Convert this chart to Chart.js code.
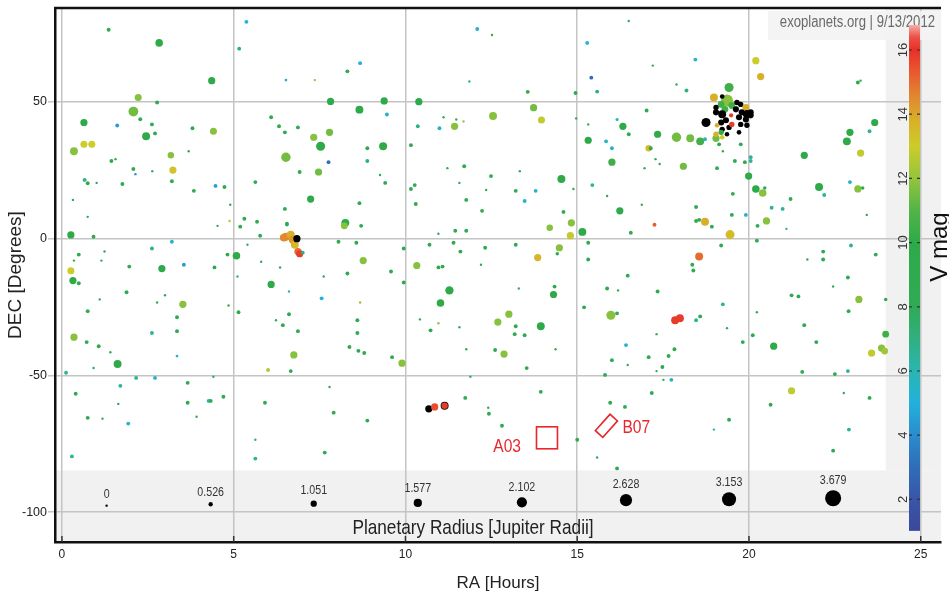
<!DOCTYPE html>
<html><head><meta charset="utf-8">
<script src="https://cdn.jsdelivr.net/npm/chart.js@4.4.1/dist/chart.umd.min.js"></script>
<style>html,body{margin:0;padding:0;background:#fff;}canvas{display:block;}</style>
</head><body>
<canvas id="c" width="949" height="598"></canvas>
<script>
// ---------------- DATA ----------------
// Right ascension [hours]
const ra = [
 1.36,2.83,4.36,5.37,5.16,6.52,7.36,2.22,2.77,2.08,
 0.64,1.61,2.28,2.62,2.45,2.71,3.80,4.41,0.35,0.64,
 0.87,3.17,3.23,1.44,1.56,2.08,2.14,2.63,3.20,3.69,
 0.66,0.75,1.01,1.76,3.84,4.47,4.73,5.63,6.09,6.32,
 6.49,6.87,7.33,6.52,6.92,7.24,6.49,6.55,0.32,0.75,
 0.26,0.92,0.49,0.35,0.26,0.32,0.49,1.24,1.15,1.96,
 2.62,3.20,2.91,3.55,4.44,4.82,5.08,4.53,4.88,4.90,
 5.19,5.31,5.68,5.77,5.40,5.11,5.80,6.09,1.88,6.35,6.61,
 6.55,6.46,6.52,6.66,6.72,6.78,6.87,6.92,7.01,6.84,
 12.09,12.52,15.29,15.41,15.58,14.95,13.56,8.68,8.31,11.86,
 7.82,8.66,9.38,10.39,9.46,10.36,10.99,11.43,12.55,13.73,
 13.96,11.11,11.48,11.69,7.53,7.79,9.35,8.89,8.89,7.76,
 7.47,9.41,9.26,10.16,11.71,12.49,14.54,11.22,11.57,10.27,
 10.16,10.30,11.77,12.23,13.21,13.79,13.47,13.33,12.35,14.89,
 14.60,14.83,14.20,14.80,15.15,14.48,14.42,13.85,15.32,15.84,
 16.01,16.01,15.44,15.32,14.97,15.87,8.25,8.22,8.71,8.66,
 8.05,8.57,8.77,8.31,9.58,9.95,9.95,7.62,7.56,10.70,
 11.40,11.60,11.45,11.77,12.32,13.21,10.33,10.96,11.08,11.28,
 11.02,14.34,14.31,15.32,15.32,15.87,13.30,12.20,10.96,
 16.50,17.20,18.44,17.89,18.18,20.20,20.34,23.17,23.25,17.02,
 16.16,16.33,16.50,17.34,17.89,18.29,18.58,18.72,19.04,17.08,
 17.14,17.28,17.40,16.96,18.09,19.07,19.24,19.76,19.59,19.88,
 20.05,20.05,19.99,20.20,20.40,20.46,19.53,18.46,19.50,19.91,
 20.25,20.51,20.66,20.98,21.21,21.09,21.61,22.04,22.19,22.94,
 23.17,23.31,23.43,22.85,22.94,23.51,23.66,23.25,16.24,16.56,
 16.88,17.25,18.46,18.55,18.72,18.92,19.45,19.19,18.55,18.35,
 18.38,20.23,22.97,22.16,22.16,23.69,22.88,22.45,21.70,23.20,
 23.98,21.24,21.44,16.47,17.34,16.19,
 19.42,18.98,19.36,19.22,19.19,19.04,19.30,19.50,19.65,19.76,
 19.91,19.62,19.04,19.22,19.79,19.94,20.05,19.71,19.91,20.05,
 18.75,19.19,19.33,19.76,19.94,19.42,19.22,19.36,19.71,19.48,
 19.50,19.07,19.19,19.04,19.22,19.13,
 3.52,1.10,2.77,3.00,4.85,0.75,0.35,0.72,1.07,1.41,
 1.62,0.92,0.12,0.40,0.75,1.18,1.64,1.70,1.93,2.16,
 2.71,2.62,3.35,3.35,3.35,3.66,3.66,3.92,4.27,4.33,
 4.70,4.41,0.29,5.14,5.63,5.63,5.91,6.00,6.66,6.75,
 6.43,6.61,6.87,6.23,
 8.68,8.60,8.60,8.37,8.63,8.80,9.61,9.90,7.79,7.91,
 8.89,7.65,10.73,10.42,10.96,11.57,11.77,11.89,12.41,11.74,
 12.43,12.81,13.94,13.53,12.61,12.87,12.69,13.01,13.21,13.18,
 13.47,13.94,14.37,15.00,15.58,15.20,15.98,16.01,15.81,15.96,
 10.68,10.85,11.14,11.14,
 16.16,17.85,17.99,18.58,18.46,17.31,16.47,17.31,17.51,16.42,
 17.08,17.66,17.83,17.48,17.74,17.17,16.39,16.16,19.24,19.36,
 19.82,20.11,19.42,18.98,20.23,20.72,21.61,21.96,21.55,22.50,
 22.88,22.76,20.63,21.24,23.51,22.91,22.45,22.90,23.57,23.86,
 23.95,23.98
];
// Declination [degrees]
const dec = [
 76.4,71.6,57.8,79.3,69.5,58.0,58.0,51.6,49.8,46.5,
 42.5,41.4,43.7,41.8,37.5,38.5,40.4,39.3,32.0,34.5,
 34.5,30.5,25.1,28.4,29.1,25.5,23.6,24.7,21.0,32.0,
 21.5,20.3,20.4,20.0,17.5,19.3,18.9,20.7,44.4,41.1,
 38.9,40.7,37.1,29.8,24.4,14.5,10.9,5.5,14.2,8.0,
 1.4,0.7,-5.8,-8.0,-11.7,-15.3,-16.3,-4.7,-8.0,-10.2,
 -3.6,-1.1,-10.9,-9.5,-10.5,-5.8,-6.2,4.7,6.5,12.4,
 4.4,7.3,6.2,1.1,-2.2,-13.8,-8.4,-16.7,-19.6,-10.5,-19.3,
 5.1,0.4,0.7,1.5,-0.4,-2.2,-4.7,-5.5,-5.1,0.0,
 76.7,74.5,71.6,58.9,53.8,53.3,53.7,64.2,61.2,57.5,
 50.2,47.2,50.4,50.1,45.4,41.1,40.4,41.1,44.9,47.9,
 43.4,44.4,43.6,42.9,33.8,38.9,33.8,33.1,28.4,28.0,
 24.4,20.4,23.3,34.2,26.5,22.9,21.8,25.8,20.4,19.6,
 18.2,12.7,14.2,10.2,17.5,17.5,13.8,24.7,17.8,18.2,
 9.8,5.8,4.0,1.1,2.5,-3.3,-5.5,-6.9,36.0,35.6,
 33.1,28.0,19.6,41.8,44.0,15.6,5.8,4.7,4.7,13.0,
 -1.1,-1.5,-8.0,-12.7,-12.0,-3.6,-16.0,-13.8,-21.8,-2.2,
 -1.5,-4.7,2.9,2.9,-3.3,-2.2,-9.8,-10.5,-10.2,-18.9,
 -23.5,-17.5,-20.4,-1.5,-7.6,-18.2,-18.2,-9.5,1.8,
 79.6,63.3,65.5,56.4,54.2,65.1,59.3,57.1,57.8,46.9,
 43.6,41.1,38.2,38.2,37.1,36.7,35.6,36.4,36.7,33.1,
 33.1,29.1,27.3,25.8,26.5,25.8,32.0,34.5,28.4,28.0,
 29.8,28.4,22.9,18.2,16.7,18.5,16.4,11.6,8.7,8.7,
 4.7,6.5,11.3,10.9,14.5,3.6,30.5,18.9,16.0,20.7,
 18.2,18.5,8.7,35.6,38.9,39.3,42.5,31.3,10.2,2.2,
 12.4,5.1,6.5,6.9,6.2,4.4,1.5,-2.5,-6.5,-9.5,
 -11.6,-0.7,-2.5,-4.7,-7.6,-5.8,-14.2,-17.5,-7.6,-22.2,
 -22.2,-20.7,-21.1,-13.5,-19.3,-18.9,
 55.3,51.6,50.5,52.0,49.1,48.0,47.3,48.7,49.8,49.1,
 48.0,47.3,46.2,45.5,46.2,45.5,46.2,44.4,43.6,45.1,
 42.5,42.5,43.3,41.8,41.5,40.7,40.0,38.2,38.9,45.1,
 41.8,41.5,38.9,38.2,37.1,34.5,
 -24.0,-22.2,-23.3,-20.7,-24.4,-26.5,-36.0,-37.8,-39.3,-41.5,
 -45.8,-47.3,-49.0,-56.7,-65.5,-65.8,-60.4,-53.8,-67.6,-50.9,
 -50.9,-34.5,-28.7,-33.8,-42.9,-52.7,-60.0,-65.1,-59.3,-59.3,
 -57.8,-50.5,-79.6,-26.9,-73.5,-80.4,-60.0,-48.0,-48.4,-42.5,
 -31.6,-27.6,-33.8,-29.8,
 -23.3,-29.8,-34.5,-39.6,-41.0,-41.8,-43.3,-45.5,-54.2,-63.6,
 -66.5,-78.2,-33.5,-29.5,-30.9,-32.4,-40.4,-50.5,-61.8,-58.2,
 -64.0,-68.4,-56.0,-47.3,-40.7,-42.2,-30.5,-27.6,-32.0,-34.9,
 -35.3,-32.0,-40.4,-73.5,-80.0,-25.1,-28.0,-44.4,-49.8,-60.0,
 -62.2,-61.5,-61.1,-61.1,
 -27.3,-29.8,-29.1,-28.4,-29.8,-34.9,-46.2,-48.4,-51.6,-38.9,
 -43.3,-42.9,-40.4,-46.9,-51.6,-56.4,-61.5,-84.0,-24.0,-32.7,
 -37.8,-35.3,-66.2,-69.8,-26.9,-39.3,-31.6,-37.8,-48.7,-49.5,
 -48.4,-56.4,-60.7,-55.6,-58.2,-69.8,-77.5,-26.5,-41.8,-40.0,
 -41.1,-34.9
];
// Host star V magnitude (null = unknown, drawn black)
const vmag = [
 9,9.5,9.5,5,7,5.5,12,11.8,9,11.5,
 10,4.5,9,9,9.5,9,9,11.8,11.8,13,
 13,11.8,13.2,9,8,9,4,8,9,8,
 7,9,8,9,9,4.5,9,9,9,9,
 9,9,11.8,11.5,9,10,9,9,8,8,
 10,9,9,8,13,10,9,8,8,9,
 7,5.5,10,4.5,9,9,10,8,12.5,8,
 9,9,9,9,7,7,8,10,9,8,6,
 9,14.5,14.5,13.8,14.3,13.6,15,15.8,7,null,
 5.5,9,5,3,7,9,9,5,9,7,
 10,10,9.5,9.5,5.5,7,5.5,11.8,11.8,11.5,
 12.8,8,9,12,10,11.5,10,9,7,3,
 11.5,9,8,9,9,9,10,8,8,9,
 9,9,9,9,9,5.5,5.5,8,8,8,
 9,11.8,11.8,12.8,10,11.8,9,13.6,10,5.5,
 5.5,10.5,6.5,8,8,8,10,11.8,9,9,
 9,9,11.8,9,9,9,9,8,5,9,
 9,9,9,9,9,9,11.8,9,9,10,
 10,9,10,9,9,9,7,8,8,
 8,8,5.5,8,7,13,13.8,9,8,9,
 6,10,9,10,11.5,11.5,10.5,6,11.5,13.5,
 9,8,8,8,11.5,9,8,9,9,9,
 6.5,6.5,10,10,11.8,9,9,9,9,5.5,
 9,11.8,6.5,6.5,9,7,10,10,6.5,5.5,
 11.8,9,8,10,10,6.5,10,12.8,10,9,
 8,15.3,9,9,13.8,9,13.5,9,15,9,
 9,9,6.5,9,9,9,9,8,8,11.8,
 9,9,9,9,9,8,
 10.5,13.8,11.8,null,10.5,null,10.5,10.5,null,null,
 13.8,null,null,null,null,null,null,null,null,null,
 null,null,null,null,null,null,null,null,null,15.8,
 15.8,13.8,10,13.8,13,9,
 11.8,8,8,8,8,9,11.8,9,9,8,
 10,8,6.5,9,9,8,8,6.5,5.5,6.5,
 5.5,6.5,9,9,5.5,9,9,8,5.5,9,
 9,8,6.5,9,7,6.5,9,12.5,9,11.8,
 9,9,9,8,
 12,9,9,9,9,9,9,11.8,8,9,
 9,9,9,8,12,8,8,8,8,9,
 9,9,9,9,9,11.8,11.8,11.8,9,9,
 9,10,8,9,8,9,11.8,9,9,9,
 null,15.5,null,15.8,
 9,15.8,15.8,9,6.5,8,8,8,8,5.5,
 9,9,9,9,5.5,9,9,9,6.5,8,
 9,9,9,6,8,10,9,9,9,9,
 6.5,8,9,12.8,9,6.5,9,9,12.8,11.8,
 12.2,10.5
];
// Planetary radius [Jupiter radii]
const radius = [
 0.4,1.4,1.3,0.4,0.4,0.1,0,1.25,0.4,2.0,
 1.3,0.4,0.4,0.4,1.5,0.4,0.4,1.25,1.5,1.25,
 1.25,1.1,1.3,0.4,0,0.4,0,0,0.4,0,
 0.4,0.4,0,0.4,0.4,0.4,0.4,0.4,0.4,0.4,
 0.4,0.4,1.3,1.9,0.4,1.3,0.4,0.4,0,0,
 1.3,0.4,0.4,0,1.25,1.3,0.4,0,0,0.4,
 0.4,0.4,1.3,0.4,0.4,0.4,1.4,0,0,0,
 0.4,0.4,0.4,0.4,0,0,0,1.3,0.4,0,0,
 0.3,1.5,1.5,1.5,1.5,1.5,1.3,1.3,0.4,1.3,
 0.4,0,0.4,0.4,0.4,0.4,0.4,0.4,0.4,0,
 1.3,1.5,1.3,1.3,0.4,0.4,0.4,1.3,1.5,1.3,
 1.25,0,0,0,1.8,1.3,1.5,0.4,0.4,0.4,
 1.3,0.4,0,0.4,0.4,0.4,1.5,0,0,0.4,
 0.4,0.4,0.4,0.4,0.4,0.4,0.4,0,0,0,
 0.4,1.3,1.1,1.3,1.5,1.3,0.3,1.3,1.3,0.4,
 0.4,1.3,0.4,0,0,0,1.5,1.2,0.4,0.4,
 0.4,0.4,1.3,0.4,0.4,0.4,0.4,0,0.4,0.4,
 0.4,0.4,0.4,0.4,0.4,0.4,1.3,0.4,0.4,1.6,
 1.4,0.4,1.3,0.4,0.4,0.4,0,0,0,
 0,0,0.4,0,0.4,1.3,1.3,0.4,0,0.4,
 0.2,1.3,0.4,1.3,1.9,1.5,1.5,0.4,1.3,1.1,
 0.4,0,0,0,1.3,0.4,0,0.4,0.4,0.4,
 0.4,0.4,1.3,1.4,1.4,0.3,0.4,0.4,0.4,0.4,
 0.4,1.3,0.4,0.4,0.4,0,1.3,1.5,0.4,0.4,
 1.3,0.3,0,1.5,1.3,0.4,1.3,1.3,1.3,0.4,
 0,0.4,0.4,0.4,1.5,0.4,1.8,0.4,1.5,0.4,
 0.4,0.4,0.4,0.4,0.4,0.4,0.4,0,0,1.3,
 0.3,0.4,0.4,0.4,0.4,0,
 1.8,1.5,2.6,0.6,1.2,0.8,1.2,1.2,0.8,0.8,
 1.2,1.0,1.0,1.5,1.0,1.6,1.0,1.0,1.0,1.0,
 1.8,1.0,1.0,0.8,0.8,0.8,0.8,0.6,0.6,0.5,
 0.8,0.6,0.8,0.8,0.6,0.4,
 1.3,0,0,0,0,0.4,1.3,0.4,0.4,0,
 1.5,0,0.4,0.4,0.4,0,0,0.4,0.4,0.4,
 0.4,0.4,0.4,0.4,0.1,0.4,0.4,0,0.4,0.4,
 0.4,0,0.4,0.4,0,0.4,0.4,0.4,0.4,1.3,
 0.4,0.4,0.4,0,
 0,0.4,0.4,0.4,0.4,0.4,0.4,1.3,0,0.4,
 0.4,0.4,0.4,0,0,0,0,0,0,0.4,
 0.4,0.4,0.4,0.4,0.4,1.3,1.3,1.3,0.4,0.4,
 0.4,1.5,0,0.4,0,0.4,1.8,0.4,0.4,0.4,
 1.3,1.3,1.5,1.1,
 0.4,1.5,1.5,0.4,0.4,0,0,0,0,0.4,
 0.4,0.4,0.4,0.4,0.4,0.4,0.4,0.4,0.4,0,
 0.4,0.4,0.4,0,0,1.3,0.4,0.4,0.4,0.4,
 0.4,0,0.4,1.3,0.4,0.4,0.4,0.4,1.3,1.3,
 1.2,1.2
];
// Size legend (planetary radius key)
const legendRadius = [0, 0.526, 1.051, 1.577, 2.102, 2.628, 3.153, 3.679];
const legendRA     = [1.30, 4.33, 7.33, 10.36, 13.39, 16.42, 19.42, 22.45];
const legendDec    = [-97.6, -97.1, -96.9, -96.6, -96.4, -95.6, -95.3, -94.9];
// Axis / colour-bar ticks
const raTicks   = [0, 5, 10, 15, 20, 25];
const decTicks  = [-100, -50, 0, 50];
const vmagTicks = [2, 4, 6, 8, 10, 12, 14, 16];
// Field markers
const markerLabels = ['A03', 'B07'];
const markerRA     = [14.12, 15.85];
const markerDec    = [-72.8, -68.4];

// ---------------- STYLE ----------------
const REG = "'Liberation Sans',Arial,sans-serif";
const SQ = 0.82; // horizontal squeeze used for the narrow-looking labels
const cmapV = [1.0,2.0,3.0,4.0,5.0,6.0,7.0,8.0,10.0,11.0,12.0,13.0,13.8,14.5,15.3,16.0,16.4,16.8];
const cmapC = ['#3a489a','#3a55a8','#2f6db8','#2a8ccc','#22b0dc','#2ab6b0','#30b080','#30aa55','#2eaa48','#52b448','#94c43c','#cccc2a','#d8b028','#e08a30','#e85a30','#e83028','#ec5048','#f4b0a8'];
function hexRgb(h){return [parseInt(h.slice(1,3),16),parseInt(h.slice(3,5),16),parseInt(h.slice(5,7),16)];}
function vColor(v){
  if (v === null) return '#000000';
  if (v <= cmapV[0]) return cmapC[0];
  for (let i = 1; i < cmapV.length; i++) {
    if (v <= cmapV[i]) {
      const t = (v - cmapV[i-1]) / (cmapV[i] - cmapV[i-1]);
      const a = hexRgb(cmapC[i-1]), b = hexRgb(cmapC[i]);
      return 'rgb(' + a.map((c,k)=>Math.round(c + (b[k]-c)*t)).join(',') + ')';
    }
  }
  return cmapC[cmapC.length-1];
}
const rPix = R => 1.2 + 1.85 * R;

const X_MIN = -0.202, X_MAX = 25.59, Y_MIN = -110.9, Y_MAX = 84.36;
const BAND_DEC = -84.7, PANEL_RA = 23.98;

function narrowText(ctx, txt, x, y, size, align, color) {
  ctx.save();
  ctx.translate(x, y); ctx.scale(SQ, 1);
  ctx.font = size + 'px ' + REG; ctx.fillStyle = color;
  ctx.textAlign = align; ctx.textBaseline = 'middle';
  ctx.fillText(txt, 0, 0);
  ctx.restore();
}

const overlay = {
  id: 'overlay',
  beforeDraw(chart) {
    const {ctx, chartArea: a, scales: {x, y}} = chart;
    ctx.save();
    ctx.fillStyle = '#ffffff';
    ctx.fillRect(0, 0, chart.width, chart.height);
    ctx.fillStyle = '#f1f1f1';
    const yb = y.getPixelForValue(BAND_DEC);
    ctx.fillRect(a.left, yb, a.right - a.left, a.bottom - yb);
    const xp = x.getPixelForValue(PANEL_RA);
    ctx.fillRect(xp, a.top, a.right - xp, yb - a.top);
    ctx.restore();
  },
  afterDraw(chart) {
    const {ctx, chartArea: a, scales: {x, y}} = chart;
    ctx.save();
    // top frame line
    ctx.strokeStyle = '#111'; ctx.lineWidth = 2.5;
    ctx.beginPath(); ctx.moveTo(a.left - 1, a.top); ctx.lineTo(a.right, a.top); ctx.stroke();
    // inward x tick marks
    ctx.strokeStyle = '#333'; ctx.lineWidth = 1.5;
    raTicks.forEach(v => { const px = x.getPixelForValue(v); ctx.beginPath(); ctx.moveTo(px, a.bottom); ctx.lineTo(px, a.bottom - 6); ctx.stroke(); });

    // watermark
    ctx.fillStyle = 'rgba(243,243,243,0.9)';
    ctx.fillRect(768, a.top + 3, a.right - 768, 29);
    narrowText(ctx, 'exoplanets.org | 9/13/2012', 935, 23, 16, 'right', '#6a6a6a');

    // colour bar
    const cbY = v => 50 + (16 - v) * 32.1;
    const cbL = 909, cbR = 920, vTop = 16.78, vBot = 1.02;
    const g = ctx.createLinearGradient(0, cbY(vTop), 0, cbY(vBot));
    cmapV.forEach((v, i) => { g.addColorStop(Math.min(1, Math.max(0, (vTop - v) / (vTop - vBot))), cmapC[i]); });
    ctx.fillStyle = g;
    ctx.fillRect(cbL, cbY(vTop), cbR - cbL, cbY(vBot) - cbY(vTop));
    ctx.strokeStyle = '#333'; ctx.lineWidth = 1.2;
    vmagTicks.forEach(v => {
      const py = cbY(v);
      ctx.beginPath(); ctx.moveTo(cbL, py); ctx.lineTo(cbL + 3, py); ctx.moveTo(cbR - 3, py); ctx.lineTo(cbR, py); ctx.stroke();
      ctx.save(); ctx.translate(903, py); ctx.rotate(-Math.PI / 2);
      ctx.fillStyle = '#333'; ctx.font = '13px ' + REG; ctx.textAlign = 'center'; ctx.textBaseline = 'middle';
      ctx.fillText(String(v), 0, 0); ctx.restore();
    });
    ctx.save(); ctx.translate(940, 247); ctx.rotate(-Math.PI / 2);
    ctx.fillStyle = '#111'; ctx.font = '24px ' + REG; ctx.textAlign = 'center'; ctx.textBaseline = 'middle';
    ctx.fillText('V mag', 0, 0); ctx.restore();

    // size legend labels
    legendRadius.forEach((R, i) => {
      const px = x.getPixelForValue(legendRA[i]), py = y.getPixelForValue(legendDec[i]);
      narrowText(ctx, String(R), px, py - rPix(R) - 10, 13, 'center', '#333');
    });
    narrowText(ctx, 'Planetary Radius [Jupiter Radii]', 473, 528, 21, 'center', '#222');

    // field markers
    ctx.strokeStyle = '#e8262b'; ctx.lineWidth = 1.6;
    const mw = [21, 22], mh = [22, 10], mrot = [0, -48];
    markerLabels.forEach((lab, i) => {
      const px = x.getPixelForValue(markerRA[i]), py = y.getPixelForValue(markerDec[i]);
      ctx.save(); ctx.translate(px, py); ctx.rotate(mrot[i] * Math.PI / 180);
      ctx.strokeRect(-mw[i] / 2, -mh[i] / 2, mw[i], mh[i]); ctx.restore();
      if (i === 0) narrowText(ctx, lab, px - 26, py + 9, 19, 'right', '#e8262b');
      else narrowText(ctx, lab, px + 16, py + 1.5, 19, 'left', '#e8262b');
    });
    ctx.restore();
  }
};

new Chart(document.getElementById('c').getContext('2d'), {
  type: 'scatter',
  data: {
    datasets: [
      {
        label: 'Planetary Radius key',
        data: legendRA.map((v, i) => ({x: v, y: legendDec[i]})),
        pointRadius: legendRadius.map(rPix),
        pointHoverRadius: legendRadius.map(rPix),
        pointBackgroundColor: '#000', pointBorderWidth: 0, borderWidth: 0
      },
      {
        label: 'Planets',
        data: ra.map((v, i) => ({x: v, y: dec[i]})),
        pointRadius: radius.map(rPix),
        pointHoverRadius: radius.map(rPix),
        pointBackgroundColor: vmag.map(vColor),
        pointBorderWidth: 0, borderWidth: 0
      }
    ]
  },
  options: {
    responsive: false, animation: false, devicePixelRatio: 1,
    layout: { padding: { left: 0, right: 0, top: 5, bottom: 0 } },
    plugins: { legend: { display: false }, tooltip: { enabled: false } },
    scales: {
      x: {
        type: 'linear', min: X_MIN, max: X_MAX,
        afterBuildTicks: s => { s.ticks = raTicks.map(v => ({value: v})); },
        afterFit: s => { s.height = 56; s.paddingLeft = 0; s.paddingRight = 0; },
        grid: { color: '#c4c4c4', lineWidth: 1.5, drawTicks: false },
        border: { color: '#111', width: 2.5 },
        ticks: { padding: 5, color: '#222', font: { family: REG, size: 12 }, maxRotation: 0 },
        title: { display: true, text: 'RA [Hours]', color: '#222', font: { family: REG, size: 17 }, padding: { top: 0, bottom: 4 } }
      },
      y: {
        type: 'linear', min: Y_MIN, max: Y_MAX,
        afterBuildTicks: s => { s.ticks = decTicks.map(v => ({value: v})); },
        afterFit: s => { s.width = 55; s.paddingTop = 0; s.paddingBottom = 0; },
        grid: { color: '#c4c4c4', lineWidth: 1.5, drawTicks: true, tickLength: 7, tickColor: '#c4c4c4' },
        border: { color: '#111', width: 2.5 },
        ticks: { padding: 1, color: '#222', font: { family: REG, size: 12.5 } },
        title: { display: true, text: 'DEC [Degrees]', color: '#222', font: { family: REG, size: 19 }, padding: { top: 4, bottom: 0 } }
      }
    }
  },
  plugins: [overlay]
});
</script>
</body></html>
